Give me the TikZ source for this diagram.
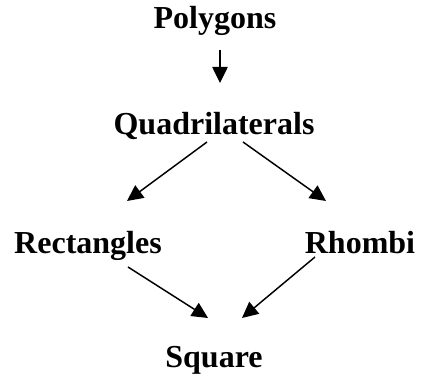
\documentclass[tikz,border=0pt]{standalone}
\usepackage{fontspec}
\setmainfont{Liberation Serif}
\usepackage{tikz}
\usetikzlibrary{arrows.meta, positioning, calc}
\tikzset{
	term/.style     ={inner sep=0pt, anchor=base, font=\fontsize{24}{28}\selectfont\bfseries},
	hierarrow/.style={-{Triangle[length=12pt, width=11.5pt]}, line width=1.1pt},
}
\begin{document}
\begin{tikzpicture}[x=0.75pt, y=-0.75pt]
	\useasboundingbox (0,0) rectangle (422,377);
	\node[term] (poly) at (215,29)  {Polygons};
	\node[term] (quad) at (214,135) {Quadrilaterals};
	\node[term] (rect) at (88,254)  {Rectangles};
	\node[term] (rhom) at (360,254) {Rhombi};
	\node[term] (sq)   at (214,368) {Square};
	\draw[hierarrow] ($(poly.base)+(5,21)$) -- ($(quad.base)+(6,-52)$);
	\draw[hierarrow] ($(quad.base)+(-7,7)$) -- ($(rect.base)+(39,-53)$);
	\draw[hierarrow] ($(quad.base)+(29,7)$) -- ($(rhom.base)+(-34,-53)$);
	\draw[hierarrow] ($(rect.base)+(40,13)$) -- ($(sq.base)+(-6,-50)$);
	\draw[hierarrow] ($(rhom.base)+(-45,3)$) -- ($(sq.base)+(28,-50)$);
\end{tikzpicture}
\end{document}
